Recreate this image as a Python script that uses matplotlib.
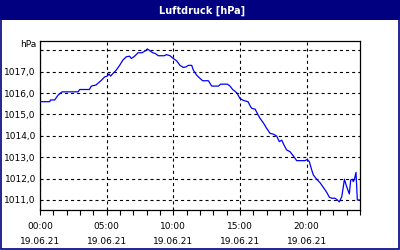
import matplotlib
matplotlib.use("Agg")
import matplotlib.pyplot as plt
from matplotlib.patches import Rectangle
from matplotlib.ticker import FixedLocator, MultipleLocator

title = "Luftdruck [hPa]"
unit = "hPa"
date_label = "19.06.21"
major_hours = [0, 5, 10, 15, 20]
y_ticks = [1011, 1012, 1013, 1014, 1015, 1016, 1017, 1018]

hours = [0.0, 0.73, 0.78, 1.1, 1.35, 1.65, 2.85, 2.98, 3.7, 3.85, 4.2, 4.6, 4.85,
         5.05, 5.17, 5.3, 5.47, 5.72, 5.97, 6.22, 6.47, 6.72, 6.85, 7.1, 7.35, 7.65,
         7.9, 8.05, 8.25, 8.45, 8.63, 8.88, 9.3, 9.5, 9.75, 10.0, 10.25, 10.5, 10.75,
         10.95, 11.13, 11.38, 11.5, 11.75, 12.0, 12.2, 12.63, 12.88, 13.38, 13.55,
         14.05, 14.25, 14.45, 14.75, 15.0, 15.25, 15.6, 15.8, 15.88, 16.13, 16.3,
         16.5, 16.75, 17.0, 17.25, 17.5, 17.75, 17.95, 18.13, 18.3, 18.5, 18.75,
         19.0, 19.25, 19.88, 20.05, 20.2, 20.38, 20.5, 20.75, 21.0, 21.25, 21.5,
         21.7, 21.88, 22.13, 22.3, 22.45, 22.63, 22.75, 22.83, 23.0, 23.2, 23.3,
         23.42, 23.5, 23.58, 23.7, 23.8, 23.95]
pressure = [1015.60, 1015.60, 1015.68, 1015.68, 1015.90, 1016.06, 1016.06, 1016.17,
            1016.17, 1016.33, 1016.38, 1016.60, 1016.76, 1016.80, 1016.90, 1016.80,
            1016.92, 1017.08, 1017.30, 1017.55, 1017.70, 1017.73, 1017.62, 1017.73,
            1017.89, 1017.89, 1017.98, 1018.07, 1017.98, 1017.89, 1017.86, 1017.75,
            1017.75, 1017.80, 1017.75, 1017.62, 1017.51, 1017.30, 1017.20, 1017.23,
            1017.30, 1017.30, 1017.08, 1016.84, 1016.69, 1016.58, 1016.58, 1016.33,
            1016.33, 1016.42, 1016.42, 1016.33, 1016.17, 1016.02, 1015.75, 1015.66,
            1015.60, 1015.36, 1015.29, 1015.25, 1015.05, 1014.82, 1014.61, 1014.35,
            1014.12, 1014.08, 1013.99, 1013.73, 1013.80, 1013.57, 1013.34, 1013.26,
            1013.06, 1012.84, 1012.84, 1012.90, 1012.79, 1012.40, 1012.17, 1011.97,
            1011.81, 1011.59, 1011.36, 1011.13, 1011.08, 1011.08, 1011.00, 1010.91,
            1011.15, 1011.62, 1011.97, 1011.62, 1011.28, 1011.93, 1011.97, 1011.86,
            1011.97, 1012.29, 1011.00, 1011.00]

plt.rcParams['lines.scale_dashes'] = False
plt.rcParams['font.family'] = ['DejaVu Sans']

W, H = 400, 250
fig = plt.figure(figsize=(4, 2.5), dpi=100, facecolor="white")

navy = "#000080"
# title bar
fig.patches.append(Rectangle((0, 1 - 20 / H), 1, 20 / H, transform=fig.transFigure,
                             facecolor=navy, edgecolor="none", zorder=0))
# border
fig.patches.append(Rectangle((0.5 / W, 1.5 / H), 1 - 2 / W, 1 - 3 / H, transform=fig.transFigure,
                             facecolor="none", edgecolor=navy, linewidth=1.2, zorder=0))
fig.text(202 / W, 1 - 10.5 / H, title, color="white", fontsize=7, fontweight="bold",
         ha="center", va="center")

ax = fig.add_axes([40 / W, 1 - 210 / H, 320 / W, 169 / H])
ax.plot(hours, pressure, color="#0000FF", linewidth=0.9, zorder=3)
ax.set_xlim(0, 24)
ax.set_ylim(1010.53, 1018.44)

ax.xaxis.set_major_locator(FixedLocator(major_hours))
ax.xaxis.set_minor_locator(MultipleLocator(1))
ax.set_xticklabels([f"{h:02d}:00\n{date_label}" for h in major_hours])
for lbl in ax.get_xticklabels():
    lbl.set_linespacing(1.9)
ax.tick_params(axis="x", which="both", direction="out", length=3.5, width=0.8,
               labelsize=6.5, pad=5, color="black")

ax.yaxis.set_major_locator(FixedLocator(y_ticks))
ax.set_yticklabels([f"{v},0" if v != 1018 else "" for v in y_ticks])
ax.tick_params(axis="y", which="both", length=0, labelsize=6.5, pad=3)

ax.grid(True, which="major", color="black", linestyle=(0, (2.2, 2.2)), linewidth=0.8)
for s in ax.spines.values():
    s.set_color("black")
    s.set_linewidth(0.9)

fig.text(36 / W, 1 - 45 / H, unit, fontsize=6.5, ha="right", va="center")

fig.savefig("out.png", dpi=100, facecolor="white")
